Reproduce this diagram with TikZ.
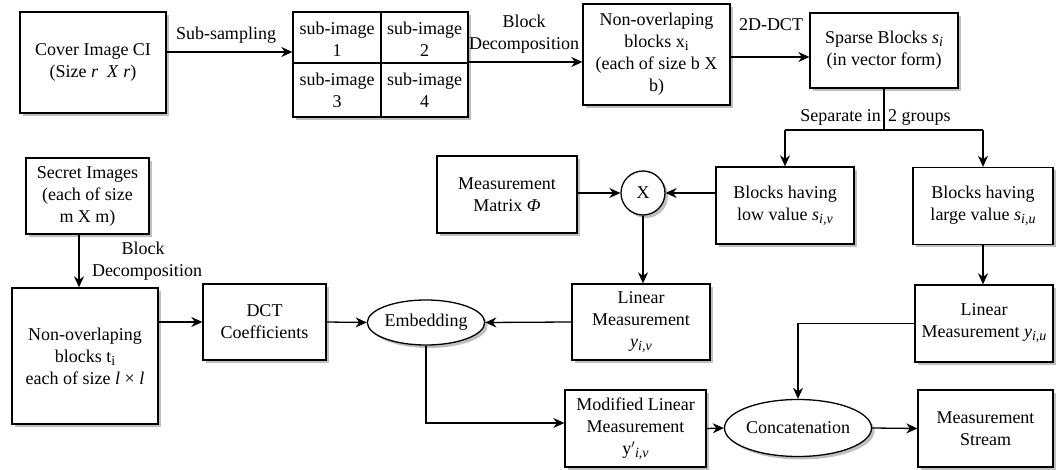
\documentclass[tikz,border=0pt]{standalone}
\usepackage{fontspec}
\setmainfont{Liberation Serif}
\usetikzlibrary{arrows.meta,shapes.geometric,shadows}
\newcommand{\mylow}[1]{\raisebox{-0.35ex}{\fontsize{14}{14}\selectfont #1}}
\newcommand{\mysub}[2]{\textit{#1}\mylow{\textit{#2}}}
\tikzset{
  base/.style={draw=black, line width=1.3pt, fill=white, align=center, inner sep=1pt,
    font=\fontsize{18}{22}\selectfont,
    drop shadow={shadow xshift=3pt, shadow yshift=-3pt, fill=black!25, opacity=1}},
  box/.style={base, rectangle},
  oval/.style={base, ellipse},
  lbl/.style={font=\fontsize{18}{22}\selectfont, align=center, inner sep=0pt},
  conn/.style={line width=1.3pt},
  arr/.style={conn, -{Stealth[length=11pt,width=10pt,inset=3.5pt]}}
}
\begin{document}
\begin{tikzpicture}[x=1pt,y=-1pt]
\useasboundingbox (0,0) rectangle (1061,470);
% top row
\node[box, minimum width=146pt, minimum height=101pt] (cover) at (93,62.5) {Cover Image CI\\(Size \textit{r}~~\textit{X} \textit{r})};
\node[box, minimum width=175pt, minimum height=105pt] (grid) at (380.5,64.5) {};
\draw[conn] (grid.north) ++(0.5,0) coordinate (gt) -- (gt |- grid.south);
\draw[conn] (grid.west) ++(0,-1.5) coordinate (gl) -- (gl -| grid.east);
\node[lbl] (s1) at (337,39) {sub-image\\1};
\node[lbl] (s2) at (424.5,39) {sub-image\\2};
\node[lbl] (s3) at (337,90) {sub-image\\3};
\node[lbl] (s4) at (424.5,90) {sub-image\\4};
\node[box, minimum width=147pt, minimum height=101pt] (nbx) at (656.5,54.5) {Non-overlaping\\blocks x\mylow{i}\\(each of size b X\\b)};
\node[box, minimum width=148pt, minimum height=75pt] (sparse) at (884,50.5) {Sparse Blocks \mysub{s}{i}\\(in vector form)};
% arrows top
\draw[arr] (cover.east |- 0,52) coordinate (c1) -- (c1 -| grid.west);
\node[lbl] (lss) at (226,35) {Sub-sampling};
\draw[arr] (grid.east |- 0,62) coordinate (c2) -- (c2 -| nbx.west);
\node[lbl] (lbd) at (524,34) {Block\\Decomposition};
\draw[arr] (nbx.east |- 0,57) coordinate (c3) -- (c3 -| sparse.west);
\node[lbl] (ldct) at (771,25) {2D-DCT};
% split
\coordinate (sp) at (sparse.south |- 0,130);
\coordinate (spl) at (785,130);
\coordinate (spr) at (983,130);
\draw[conn] (sparse.south) -- (sp);
\draw[conn] (spl) -- (spr);
\node[lbl, anchor=east] (lsep1) at ([xshift=-3pt]sp |- 0,117) {Separate in};
\node[lbl, anchor=west] (lsep2) at ([xshift=4pt]sp |- 0,117) {2 groups};
\node[box, minimum width=138pt, minimum height=77pt] (low) at (785,205.5) {Blocks having\\low value \mysub{s}{i,v}};
\node[box, minimum width=140pt, minimum height=77pt] (large) at (983,206) {Blocks having\\large value \mysub{s}{i,u}};
\draw[arr] (spl) -- (low.north);
\draw[arr] (spr) -- (large.north);
% middle
\node[box, circle, minimum size=44pt, inner sep=0pt] (mult) at (643,193) {X};
\node[box, minimum width=140pt, minimum height=77pt] (matrix) at (507,194.5) {Measurement\\Matrix \textit{Φ}};
\draw[arr] (matrix.east |- mult) -- (mult.west);
\draw[arr] (low.west |- mult) -- (mult.east);
\node[box, minimum width=138pt, minimum height=76pt] (linv) at (641,322) {Linear\\Measurement\\\mysub{y}{i,v}};
\draw[arr] (mult.south) -- (mult.south |- linv.north);
\node[box, minimum width=138pt, minimum height=77pt] (linu) at (984,323.5) {Linear\\Measurement \mysub{y}{i,u}};
\draw[arr] (large.south) -- (large.south |- linu.north);
% left
\node[box, minimum width=123pt, minimum height=76pt] (secret) at (87.5,196) {Secret Images\\(each of size\\m X m)};
\node[box, minimum width=146pt, minimum height=136pt] (tbox) at (85,356) {Non-overlaping\\blocks t\mylow{i}\\each of size \textit{l} × \textit{l}};
\coordinate (sd) at (79,0);
\draw[arr] (sd |- secret.south) -- (sd |- tbox.north);
\node[lbl] (lbd2) at (143,261.5) {Block\\\hspace*{8pt}Decomposition};
\node[box, minimum width=123pt, minimum height=76pt] (dct) at (264.5,322) {DCT\\Coefficients};
\node[oval, minimum width=108pt, minimum height=45pt, inner sep=0pt] (emb) at (426,322.5) {Embedding};
\draw[arr] (tbox.east |- dct.west) -- (dct.west);
\draw[arr] (dct.east) -- (emb.west);
\draw[arr] (linv.west) -- (emb.east);
% bottom
\node[box, minimum width=141pt, minimum height=77pt] (mod) at (635.5,428.5) {Modified Linear\\Measurement\\y$'$\mylow{\textit{i,v}}};
\node[oval, minimum width=121pt, minimum height=57pt, inner sep=0pt] (concat) at (798,428) {Concatenation};
\node[box, minimum width=135pt, minimum height=77pt] (stream) at (985.5,428.5) {Measurement\\Stream};
\coordinate (ea) at (mod.west |- 0,423);
\draw[arr] (emb.south) |- (ea);
\draw[arr] (mod.east) -- (concat.west);
\draw[arr] (concat.east) -- (stream.west);
\coordinate (cr) at (concat.north |- linu.west);
\draw[arr] (linu.west) -- (cr) -- (concat.north);
\end{tikzpicture}
\end{document}
